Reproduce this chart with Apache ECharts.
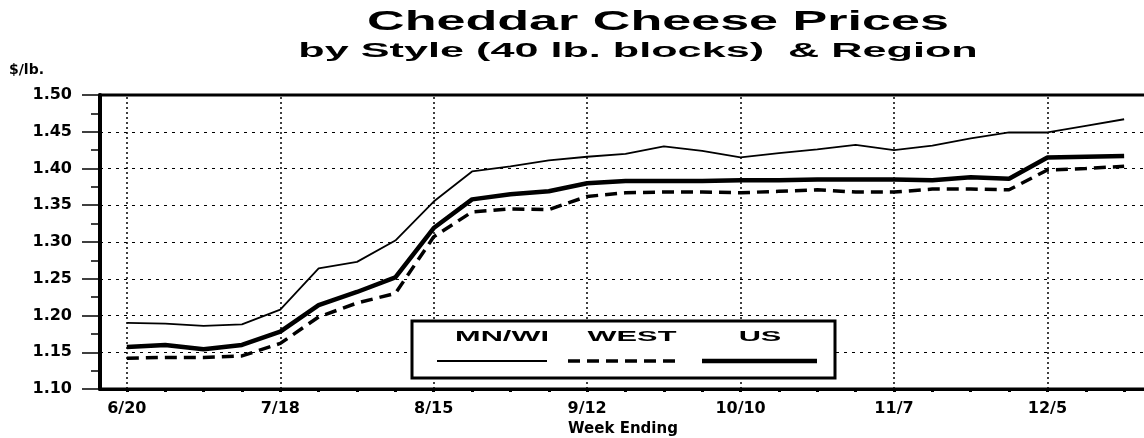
<!DOCTYPE html>
<html>
<head>
<meta charset="utf-8">
<script src="https://cdn.jsdelivr.net/npm/echarts@6/dist/echarts.min.js"></script>
<style>
  html, body { margin: 0; padding: 0; background: #fff; }
  #chart { width: 1144px; height: 438px; }
</style>
</head>
<body>
<div id="chart"></div>
<script>
// week ending dates
const weeks = ['6/20', '6/27', '7/4', '7/11', '7/18', '7/25', '8/1', '8/8', '8/15', '8/22', '8/29', '9/5', '9/12', '9/19',
  '9/26', '10/3', '10/10', '10/17', '10/24', '10/31', '11/7', '11/14', '11/21', '11/28', '12/5', '12/12', '12/19']
// weeks that get a label + vertical grid line
const labelWeeks = ['6/20', '7/18', '8/15', '9/12', '10/10', '11/7', '12/5']

// $/lb.
const mnwi = [1.190, 1.189, 1.186, 1.188, 1.208, 1.264, 1.273, 1.302, 1.355, 1.396, 1.403, 1.411, 1.416, 1.420,
  1.430, 1.424, 1.415, 1.421, 1.426, 1.432, 1.425, 1.431, 1.441, 1.449, 1.449, 1.458, 1.467]
const west = [1.142, 1.143, 1.143, 1.145, 1.162, 1.198, 1.217, 1.230, 1.307, 1.341, 1.345, 1.344, 1.362, 1.367,
  1.368, 1.368, 1.367, 1.369, 1.371, 1.368, 1.368, 1.372, 1.372, 1.371, 1.398, 1.400, 1.403]
const us = [1.157, 1.160, 1.154, 1.160, 1.178, 1.214, 1.232, 1.252, 1.319, 1.358, 1.365, 1.369, 1.380, 1.383,
  1.383, 1.383, 1.384, 1.384, 1.385, 1.385, 1.385, 1.384, 1.388, 1.386, 1.415, 1.416, 1.417]

const seriesNames = ['MN/WI', 'WEST', 'US']

const myChart = echarts.init(document.getElementById('chart'), null, { renderer: 'canvas' })

const toPoints = (arr) => arr.map((v, i) => [i, v])
const labelIdx = labelWeeks.map(w => weeks.indexOf(w))
const boldFont = 'DejaVu Sans'
const wideFont = 'Liberation Sans'

// legend drawn as a box: name on top, line sample below
const legendBox = { x: 412, y: 321, w: 423, h: 57 }
const legendCols = [
  { cx: 502, x1: 437, x2: 547, style: { lineWidth: 1.8 } },
  { cx: 632, x1: 568, x2: 682, style: { lineWidth: 3.5, lineDash: [12, 7] } },
  { cx: 760, x1: 702, x2: 817, style: { lineWidth: 4.5 } }
]
const legendGraphic = [
  {
    type: 'rect',
    shape: { x: legendBox.x, y: legendBox.y, width: legendBox.w, height: legendBox.h },
    style: { fill: '#fff', stroke: '#000', lineWidth: 3 },
    z: 100
  }
]
legendCols.forEach((c, k) => {
  legendGraphic.push({
    type: 'text',
    x: c.cx,
    y: legendBox.y + 16,
    scaleX: 2.05,
    style: { text: seriesNames[k], x: 0, y: 0, align: 'center', verticalAlign: 'middle',
      font: 'bold 15px ' + wideFont, fill: '#000' },
    z: 101
  })
  legendGraphic.push({
    type: 'line',
    shape: { x1: c.x1, y1: legendBox.y + 40, x2: c.x2, y2: legendBox.y + 40 },
    style: Object.assign({ stroke: '#000' }, c.style),
    z: 101
  })
})

myChart.setOption({
  animation: false,
  backgroundColor: '#fff',
  grid: {
    left: 100,
    right: -2,
    top: 95,
    bottom: 49,
    outerBoundsMode: 'none',
    containLabel: false,
    show: true,
    borderColor: '#000',
    borderWidth: 3
  },
  graphic: [
    {
      type: 'text',
      x: 658,
      y: 22,
      scaleX: 1.86,
      style: { text: 'Cheddar Cheese Prices', x: 0, y: 0, align: 'center', verticalAlign: 'middle',
        font: 'bold 28px ' + wideFont, fill: '#000' }
    },
    {
      type: 'text',
      x: 638,
      y: 51,
      scaleX: 2.16,
      style: { text: 'by Style (40 lb. blocks)  & Region', x: 0, y: 0, align: 'center', verticalAlign: 'middle',
        font: 'bold 20px ' + wideFont, fill: '#000' }
    },
    ...legendGraphic
  ],
  xAxis: {
    type: 'value',
    min: -0.7,
    max: 26.57,
    name: 'Week Ending',
    nameLocation: 'middle',
    nameGap: 33,
    nameTextStyle: { fontFamily: boldFont, fontWeight: 'bold', fontSize: 15, color: '#000' },
    axisLine: { onZero: false, lineStyle: { color: '#000', width: 3 } },
    axisTick: {
      customValues: weeks.map((w, i) => i),
      length: 3,
      lineStyle: { color: '#000', width: 3 }
    },
    axisLabel: {
      customValues: labelIdx,
      formatter: (v) => weeks[v],
      margin: 12,
      fontFamily: boldFont,
      fontWeight: 'bold',
      fontSize: 16,
      color: '#000'
    },
    splitLine: { show: false }
  },
  yAxis: {
    type: 'value',
    min: 1.10,
    max: 1.50,
    interval: 0.05,
    name: '$/lb.',
    nameLocation: 'end',
    nameGap: 18,
    nameTextStyle: { align: 'right', padding: [0, 56, 0, 0], fontFamily: boldFont, fontWeight: 'bold', fontSize: 14, color: '#000' },
    axisLine: { show: true, onZero: false, lineStyle: { color: '#000', width: 4 } },
    axisTick: { show: true, length: 18, lineStyle: { color: '#000', width: 1.5 } },
    minorTick: { show: true, splitNumber: 2, length: 9, lineStyle: { color: '#000', width: 1.5 } },
    axisLabel: {
      formatter: (v) => v.toFixed(2),
      margin: 28,
      fontFamily: boldFont,
      fontWeight: 'bold',
      fontSize: 16,
      color: '#000'
    },
    splitLine: { lineStyle: { color: '#000', type: [3, 5], width: 1.2 } }
  },
  series: [
    {
      name: seriesNames[0],
      type: 'line',
      data: toPoints(mnwi),
      symbol: 'none',
      lineStyle: { color: '#000', width: 1.8 },
      markLine: {
        silent: true,
        symbol: 'none',
        label: { show: false },
        lineStyle: { color: '#000', type: [2, 3], width: 1.5 },
        data: labelIdx.map(i => ({ xAxis: i }))
      },
      z: 3
    },
    {
      name: seriesNames[1],
      type: 'line',
      data: toPoints(west),
      symbol: 'none',
      lineStyle: { color: '#000', width: 3.5, type: [12, 7] },
      z: 3
    },
    {
      name: seriesNames[2],
      type: 'line',
      data: toPoints(us),
      symbol: 'none',
      lineStyle: { color: '#000', width: 4.5 },
      z: 3
    }
  ]
})
</script>
</body>
</html>
